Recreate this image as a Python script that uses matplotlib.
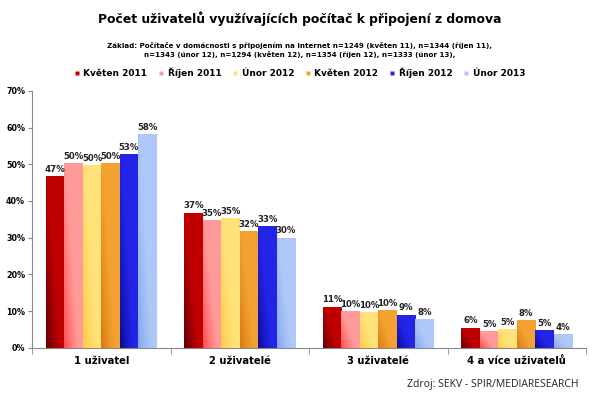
import numpy as np
import matplotlib.pyplot as plt
from matplotlib.lines import Line2D
from matplotlib.colors import to_rgb

categories = ['1 uživatel', '2 uživatelé', '3 uživatelé', '4 a více uživatelů']
series = ['Květen 2011', 'Říjen 2011', 'Únor 2012', 'Květen 2012', 'Říjen 2012', 'Únor 2013']
values = [
    [46.8, 36.8, 11.2, 5.5],   # Květen 2011
    [50.4, 34.8, 10.0, 4.6],   # Říjen 2011
    [49.8, 35.4, 9.8, 5.0],    # Únor 2012
    [50.3, 31.7, 10.3, 7.5],   # Květen 2012
    [52.8, 33.1, 9.0, 4.7],    # Říjen 2012
    [58.3, 30.0, 7.8, 3.7],    # Únor 2013
]
labels = [
    [47, 37, 11, 6],
    [50, 35, 10, 5],
    [50, 35, 10, 5],
    [50, 32, 10, 8],
    [53, 33, 9, 5],
    [58, 30, 8, 4],
]
colors = ['#C00000', '#FF9A9A', '#FFE27A', '#F3A232', '#2424E8', '#AFC8F8']
dark = ['#5A0008', '#FF4848', '#FFC840', '#D87810', '#0A0A90', '#7FA6F0']

plt.rcParams['font.family'] = ['DejaVu Sans']

fig = plt.figure(figsize=(5.99, 3.94), dpi=100)
ax = fig.add_axes([0.0534, 0.1175, 0.925, 0.652])

# diagonal shading: dark bottom-left -> base colour
u = np.linspace(0, 1, 40)[None, :]
v = np.linspace(0, 1, 60)[:, None]
s = np.clip(u * 1.3 + v * 0.9, 0, 1) ** 0.8

x = np.arange(len(categories))
n = len(series)
w = 0.8 / n
for i in range(n):
    pos = x - 0.4 + w * (i + 0.5)
    bars = ax.bar(pos, values[i], width=w, color=colors[i], edgecolor='white', linewidth=0.6)
    c0 = np.array(to_rgb(dark[i]))
    c1 = np.array(to_rgb(colors[i]))
    img = c0 + (c1 - c0) * s[..., None]
    for b in bars:
        x0, y0 = b.get_x(), b.get_y()
        im = ax.imshow(img, extent=(x0, x0 + b.get_width(), y0, y0 + b.get_height()),
                       origin='lower', aspect='auto', zorder=b.get_zorder(),
                       interpolation='bilinear')
        im.set_clip_path(b)
    for px, val, lab in zip(pos, values[i], labels[i]):
        ax.text(px, val + 0.6, f'{lab}%', ha='center', va='bottom',
                fontsize=6.2, fontweight='bold', color='#222222')

ax.set_xlim(-0.5, len(categories) - 0.5)
ax.set_ylim(0, 70)
ax.set_yticks(range(0, 71, 10))
ax.set_yticklabels([f'{t}%' for t in range(0, 71, 10)], fontsize=5.8, fontweight='bold')
ax.set_xticks(x)
ax.set_xticklabels(categories, fontsize=7.2, fontweight='bold')
ax.tick_params(axis='x', length=0, pad=6)
ax.set_xticks(np.arange(-0.5, len(categories)), minor=True)
ax.tick_params(axis='x', which='minor', length=4, color='#888888')
ax.tick_params(axis='y', length=3, color='#888888', pad=2)
for sp in ['top', 'right']:
    ax.spines[sp].set_visible(False)
for sp in ['left', 'bottom']:
    ax.spines[sp].set_color('#888888')

fig.text(0.5, 0.952, 'Počet uživatelů využívajících počítač k připojení z domova',
         ha='center', va='center', fontsize=8.9, fontweight='bold')
fig.text(0.5, 0.874,
         'Základ: Počítače v domácnosti s připojením na internet n=1249 (květen 11), n=1344 (říjen 11),\n'
         'n=1343 (únor 12), n=1294 (květen 12), n=1354 (říjen 12), n=1333 (únor 13),',
         ha='center', va='center', fontsize=5.1, fontweight='bold', linespacing=1.35)

handles = [Line2D([], [], marker='s', linestyle='none', markersize=3.5,
                  markerfacecolor=c, markeredgecolor='none') for c in colors]
fig.legend(handles, series, loc='center', bbox_to_anchor=(0.5, 0.815), ncol=6,
           frameon=False, handlelength=0.7, handletextpad=0.35, columnspacing=1.2,
           prop={'size': 6.5, 'weight': 'bold'})

fig.text(0.965, 0.025, 'Zdroj: SEKV - SPIR/MEDIARESEARCH', ha='right', va='center',
         fontsize=7.5, family='Open Sans', color='#222222')

fig.savefig('out.png', dpi=100)
